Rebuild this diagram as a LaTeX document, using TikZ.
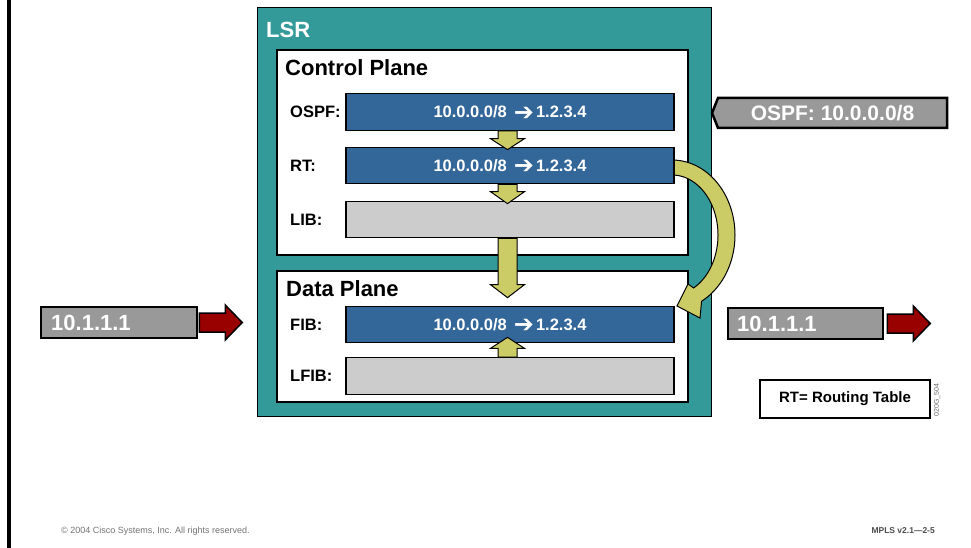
\documentclass[tikz,border=0pt]{standalone}
\usepackage{fontspec}
\setmainfont{Liberation Sans}
\newfontfamily\djv{DejaVu Sans}
\usetikzlibrary{calc}
\definecolor{lsrteal}{HTML}{339999}
\definecolor{barblue}{HTML}{336699}
\definecolor{bargrey}{HTML}{CCCCCC}
\definecolor{taggrey}{HTML}{999999}
\definecolor{arrowyellow}{HTML}{CCCC66}
\definecolor{pktred}{HTML}{990000}
\newcommand{\blockarr}[3]{%
  \filldraw[blockarrow] ($(#1)+(-9.5,0)$) -- ($(#2)+(-9.5,#3)$) -- ($(#2)+(-17,#3)$) -- (#2)
    -- ($(#2)+(17,#3)$) -- ($(#2)+(9.5,#3)$) -- ($(#1)+(9.5,0)$) -- cycle;}
\newcommand{\routeentry}{10.0.0.0/8\hspace{7pt}\smash{\raisebox{-2.5pt}{\djv\fontsize{24}{24}\selectfont ➔}}\hspace{2pt}1.2.3.4}
\begin{document}
\begin{tikzpicture}[x=1pt,y=-1pt,
  bar/.style={draw=black, line width=1.2pt, minimum width=328pt, minimum height=36.5pt, inner sep=0pt,
    text=white, font=\bfseries\fontsize{16.5}{18}\selectfont},
  rowlabel/.style={anchor=west, inner sep=0pt, font=\bfseries\fontsize{16.5}{18}\selectfont},
  planebox/.style={draw=black, line width=1.5pt, fill=white, minimum width=411pt, inner sep=0pt},
  title/.style={anchor=west, inner sep=0pt, font=\bfseries\fontsize{22}{24}\selectfont},
  blockarrow/.style={fill=arrowyellow, draw=black, line width=1pt, line join=miter},
  tagbox/.style={fill=taggrey, draw=black, line width=2.5pt, inner sep=0pt, minimum height=31pt},
  tagtext/.style={anchor=west, inner sep=0pt, text=white, font=\bfseries\fontsize{22}{24}\selectfont},
  pktarrow/.style={fill=pktred, draw=black, line width=1.5pt, line join=miter}]
\useasboundingbox (0,0) rectangle (971,548);
\fill[white] (0,0) rectangle (971,548);
\fill[black] (7,0) rectangle (11,548);

% LSR frame
\node[draw=black, line width=0.8pt, fill=lsrteal, minimum width=454pt, minimum height=409pt, inner sep=0pt] (lsr) at (484,211.5) {};
\node[title, text=white] (lsrtitle) at (266,30) {LSR};
\node[planebox, minimum height=205pt] (ctrl) at (482.5,152.5) {};
\node[planebox, minimum height=131pt] (data) at (482.5,336.5) {};
\node[title] (ctrltitle) at (285,68) {Control Plane};
\node[title] (datatitle) at (286,289) {Data Plane};

% curved arrow RT -> FIB
\filldraw[blockarrow] plot[smooth, domain=-90:62, samples=50] ({672+63*cos(\x)},{235+75*sin(\x)})
  -- (700,318) -- (677,306) -- (688,284)
  -- plot[smooth, domain=62:-90, samples=50] ({672+46*cos(\x)},{235+60*sin(\x)}) -- cycle;

% bars
\node[bar, fill=barblue] (ospf) at (510,112) {\routeentry};
\node[bar, fill=barblue] (rt) at (510,165.5) {\routeentry};
\node[bar, fill=bargrey] (lib) at (510,219.5) {};
\node[bar, fill=barblue] (fib) at (510,324.5) {\routeentry};
\node[bar, fill=bargrey] (lfib) at (510,376) {};

\node[rowlabel] (lospf) at (290,112) {OSPF:};
\node[rowlabel] (lrt) at (290,165.5) {RT:};
\node[rowlabel] (llib) at (290,219.5) {LIB:};
\node[rowlabel] (lfibl) at (290,324.5) {FIB:};
\node[rowlabel] (llfib) at (290,376) {LFIB:};

% straight block arrows
\coordinate (a1s) at ($(ospf.south)+(-2.5,0)$);
\coordinate (a1t) at ($(rt.north)+(-2.5,3)$);
\coordinate (a2s) at ($(rt.south)+(-2.5,0)$);
\coordinate (a2t) at ($(lib.north)+(-2.5,3)$);
\coordinate (a3s) at ($(lib.south)+(-2.5,0)$);
\coordinate (a3t) at ($(fib.north)+(-2.5,-8)$);
\coordinate (a4s) at ($(lfib.north)+(-2.5,0)$);
\coordinate (a4t) at ($(fib.south)+(-2.5,-6)$);
\blockarr{a1s}{a1t}{-11}
\blockarr{a2s}{a2t}{-12}
\blockarr{a3s}{a3t}{-13}
\blockarr{a4s}{a4t}{11}

% incoming packet
\node[tagbox, minimum width=156pt] (tagL) at (119,322.5) {};
\node[tagtext] (tagLtext) at (51,322.5) {10.1.1.1};
\filldraw[pktarrow] ($(tagL.east)+(1,-9.5)$) -- ($(tagL.east)+(27,-9.5)$) -- ($(tagL.east)+(27,-17.5)$)
  -- ($(tagL.east)+(44,0)$) -- ($(tagL.east)+(27,17.5)$) -- ($(tagL.east)+(27,9.5)$) -- ($(tagL.east)+(1,9.5)$) -- cycle;

% outgoing packet
\node[tagbox, minimum width=155pt] (tagR) at (805.5,323.5) {};
\node[tagtext] (tagRtext) at (737,323.5) {10.1.1.1};
\filldraw[pktarrow] ($(tagR.east)+(3,-9.5)$) -- ($(tagR.east)+(29,-9.5)$) -- ($(tagR.east)+(29,-17.5)$)
  -- ($(tagR.east)+(46,0)$) -- ($(tagR.east)+(29,17.5)$) -- ($(tagR.east)+(29,9.5)$) -- ($(tagR.east)+(3,9.5)$) -- cycle;

% OSPF update
\filldraw[fill=taggrey, draw=black, line width=2.5pt, line join=miter] (718,98) -- (947,98) -- (947,128) -- (718,128) -- (712,113) -- cycle;
\node[inner sep=0pt, text=white, font=\bfseries\fontsize{21}{24}\selectfont] (ospftag) at (832.5,113) {OSPF: 10.0.0.0/8};

% legend
\node[draw=black, line width=1.5pt, fill=white, minimum width=170pt, minimum height=38pt, inner sep=0pt,
  font=\bfseries\fontsize{15}{17}\selectfont] (legend) at (845,399) {RT= Routing Table};
\node[rotate=90, inner sep=0pt, text=black!60, font=\fontsize{7}{8}\selectfont] (code) at (937,400) {020G\_504};

% footer
\node[anchor=west, inner sep=0pt, text=black!55, font=\fontsize{9}{10}\selectfont] (copy) at (61,531) {© 2004 Cisco Systems, Inc. All rights reserved.};
\node[anchor=east, inner sep=0pt, text=black!70, font=\bfseries\fontsize{8.5}{10}\selectfont] (ver) at (935,531) {MPLS v2.1—2-5};
\end{tikzpicture}
\end{document}
